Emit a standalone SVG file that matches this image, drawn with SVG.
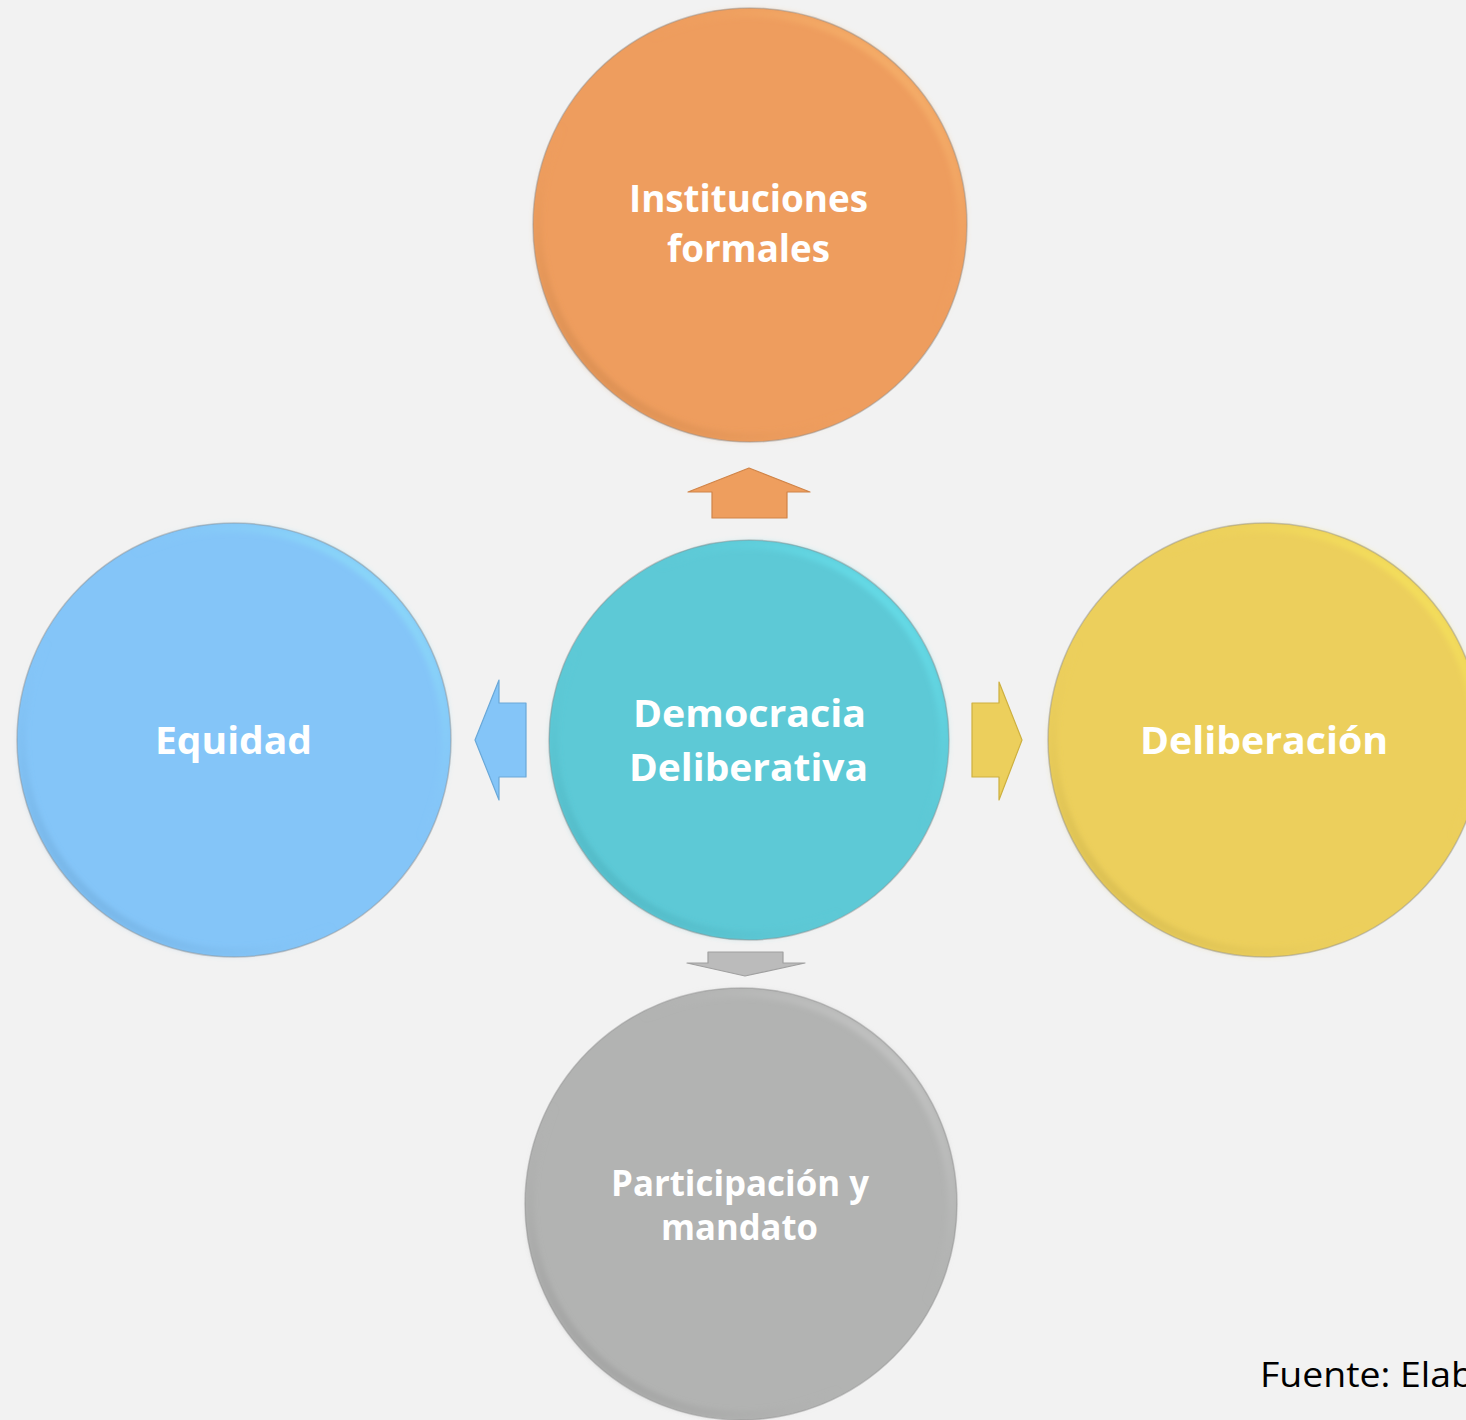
<svg xmlns="http://www.w3.org/2000/svg" width="1466" height="1420" viewBox="0 0 1466 1420">
  <defs>
    <style>
      .lbl { font-family: "Open Sans", "Liberation Sans", Arial, sans-serif; font-weight: 700; fill: #FFFFFF; font-size: 38px; }
      .src { font-family: "Open Sans", "Liberation Sans", sans-serif; font-size: 34px; fill: #000000; }
      .edge { fill: none; stroke: #8f8f8f; stroke-opacity: 0.45; stroke-width: 1.5; }
      .rim { fill: none; stroke-width: 9; }
    </style>
    <filter id="soft" x="-10%" y="-10%" width="120%" height="120%">
      <feGaussianBlur stdDeviation="2.5"/>
    </filter>
    <linearGradient id="rimO" x1="1" y1="0" x2="0" y2="1">
      <stop offset="0" stop-color="#FFC678" stop-opacity="0.9"/>
      <stop offset="0.4" stop-color="#EE9D5E" stop-opacity="0"/>
      <stop offset="0.6" stop-color="#EE9D5E" stop-opacity="0"/>
      <stop offset="1" stop-color="#B87840" stop-opacity="0.7"/>
    </linearGradient>
    <linearGradient id="rimT" x1="1" y1="0" x2="0" y2="1">
      <stop offset="0" stop-color="#70F4FF" stop-opacity="0.95"/>
      <stop offset="0.4" stop-color="#5DC9D6" stop-opacity="0"/>
      <stop offset="0.6" stop-color="#5DC9D6" stop-opacity="0"/>
      <stop offset="1" stop-color="#3E9CA8" stop-opacity="0.7"/>
    </linearGradient>
    <linearGradient id="rimB" x1="1" y1="0" x2="0" y2="1">
      <stop offset="0" stop-color="#92F0FA" stop-opacity="0.95"/>
      <stop offset="0.4" stop-color="#84C5F8" stop-opacity="0"/>
      <stop offset="0.6" stop-color="#84C5F8" stop-opacity="0"/>
      <stop offset="1" stop-color="#5E96C4" stop-opacity="0.7"/>
    </linearGradient>
    <linearGradient id="rimY" x1="1" y1="0" x2="0" y2="1">
      <stop offset="0" stop-color="#FFF45A" stop-opacity="0.95"/>
      <stop offset="0.4" stop-color="#ECCF5C" stop-opacity="0"/>
      <stop offset="0.6" stop-color="#ECCF5C" stop-opacity="0"/>
      <stop offset="1" stop-color="#B8A040" stop-opacity="0.7"/>
    </linearGradient>
    <linearGradient id="rimG" x1="1" y1="0" x2="0" y2="1">
      <stop offset="0" stop-color="#D8D8D8" stop-opacity="0.9"/>
      <stop offset="0.4" stop-color="#B2B3B2" stop-opacity="0"/>
      <stop offset="0.6" stop-color="#B2B3B2" stop-opacity="0"/>
      <stop offset="1" stop-color="#858585" stop-opacity="0.7"/>
    </linearGradient>
  </defs>

  <rect x="0" y="0" width="1466" height="1420" fill="#F2F2F2"/>

  <g id="connectors">
    <path id="arrow-up" d="M749 468 L810 492 L787 492 L787 518 L712 518 L712 492 L688 492 Z" fill="#EE9E5E" stroke="#D08448" stroke-width="1.2" stroke-linejoin="round"/>
    <path id="arrow-left" d="M475 740 L499 680 L499 703 L526 703 L526 777 L499 777 L499 800 Z" fill="#84C5F8" stroke="#6AA8D8" stroke-width="1.2" stroke-linejoin="round"/>
    <path id="arrow-right" d="M1022 740 L999 682 L999 703 L972 703 L972 777 L999 777 L999 800 Z" fill="#ECCF5C" stroke="#CDB040" stroke-width="1.2" stroke-linejoin="round"/>
    <path id="arrow-down" d="M745 976 L805 963 L783 963 L783 952 L708 952 L708 963 L687 963 Z" fill="#BBBBBB" stroke="#A0A0A0" stroke-width="1.2" stroke-linejoin="round"/>
  </g>

  <g id="node-instituciones">
    <circle cx="750" cy="225" r="217" fill="#EE9D5E"/>
    <circle cx="750" cy="225" r="212" class="rim" stroke="url(#rimO)" filter="url(#soft)"/>
    <circle cx="750" cy="225" r="217" class="edge"/>
    <text class="lbl" x="748.5" y="212" text-anchor="middle" textLength="239" lengthAdjust="spacingAndGlyphs">Instituciones</text>
    <text class="lbl" x="748.5" y="262" text-anchor="middle" textLength="163" lengthAdjust="spacingAndGlyphs">formales</text>
  </g>

  <g id="node-equidad">
    <circle cx="234" cy="740" r="217" fill="#84C5F8"/>
    <circle cx="234" cy="740" r="212" class="rim" stroke="url(#rimB)" filter="url(#soft)"/>
    <circle cx="234" cy="740" r="217" class="edge"/>
    <text class="lbl" x="233.5" y="754" text-anchor="middle" textLength="157" lengthAdjust="spacingAndGlyphs">Equidad</text>
  </g>

  <g id="node-democracia">
    <circle cx="749" cy="740" r="200" fill="#5DC9D6"/>
    <circle cx="749" cy="740" r="195" class="rim" stroke="url(#rimT)" filter="url(#soft)"/>
    <circle cx="749" cy="740" r="200" class="edge"/>
    <text class="lbl" x="749.5" y="727" text-anchor="middle" textLength="233" lengthAdjust="spacingAndGlyphs">Democracia</text>
    <text class="lbl" x="748.5" y="781" text-anchor="middle" textLength="239" lengthAdjust="spacingAndGlyphs">Deliberativa</text>
  </g>

  <g id="node-deliberacion">
    <circle cx="1265" cy="740" r="217" fill="#ECCF5C"/>
    <circle cx="1265" cy="740" r="212" class="rim" stroke="url(#rimY)" filter="url(#soft)"/>
    <circle cx="1265" cy="740" r="217" class="edge"/>
    <text class="lbl" x="1264" y="754" text-anchor="middle" textLength="248" lengthAdjust="spacingAndGlyphs">Deliberación</text>
  </g>

  <g id="node-participacion">
    <circle cx="741" cy="1204" r="216" fill="#B2B3B2"/>
    <circle cx="741" cy="1204" r="211" class="rim" stroke="url(#rimG)" filter="url(#soft)"/>
    <circle cx="741" cy="1204" r="216" class="edge"/>
    <text class="lbl" x="740" y="1196" text-anchor="middle" textLength="258" lengthAdjust="spacingAndGlyphs" style="font-size:35px">Participación y</text>
    <text class="lbl" x="739.5" y="1240" text-anchor="middle" textLength="157" lengthAdjust="spacingAndGlyphs" style="font-size:35px">mandato</text>
  </g>

  <text class="src" x="1260" y="1387" textLength="214" lengthAdjust="spacingAndGlyphs">Fuente: Elab</text>
</svg>
